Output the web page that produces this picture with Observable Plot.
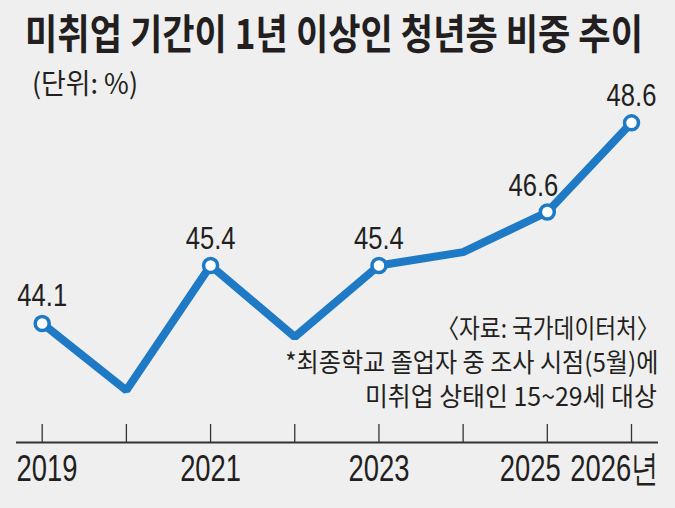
<!DOCTYPE html>
<html><head><meta charset="utf-8">
<script src="https://cdn.jsdelivr.net/npm/d3@7"></script>
<script src="https://cdn.jsdelivr.net/npm/@observablehq/plot@0.6"></script>
<style>
html,body{margin:0;padding:0;background:#efefef;}
#wrap{position:relative;width:675px;height:508px;background:#efefef;overflow:hidden;font-family:"Noto Sans CJK KR","Noto Sans",sans-serif;color:#231f20;}
#chart{position:absolute;left:0;top:0;}
.fit{position:absolute;white-space:nowrap;line-height:1;}
#title{left:25px;top:11px;font-size:41px;font-weight:700;transform-origin:left top;}
#sub{left:32px;top:68px;font-size:28px;font-weight:400;transform-origin:left top;}
.note{right:16px;font-size:26px;font-weight:400;transform-origin:right top;}
</style></head>
<body>
<div id="wrap">
  <div id="chart"></div>
  <div class="fit" id="title" data-w="618">미취업 기간이 1년 이상인 청년층 비중 추이</div>
  <div class="fit" id="sub" data-w="106">(단위: %)</div>
  <div class="fit note" style="top:314px" data-w="223">〈자료: 국가데이터처〉</div>
  <div class="fit note" style="top:348px;right:17px" data-w="373">*최종학교 졸업자 중 조사 시점(5월)에</div>
  <div class="fit note" style="top:382px;right:18px" data-w="292">미취업 상태인 15~29세 대상</div>
</div>
<script>
// Data
const years = [2019, 2020, 2021, 2022, 2023, 2024, 2025, 2026];
const values = [44.1, 42.6, 45.4, 43.8, 45.4, 45.7, 46.6, 48.6];
const labeledYears = [2019, 2021, 2023, 2025, 2026];
const tickLabels = ["2019", "2021", "2023", "2025", "2026년"];

const data = years.map((year, i) => ({year, value: values[i]}));
const labeled = data.filter(d => labeledYears.includes(d.year));
const ticks = labeledYears.map((year, i) => ({year, label: tickLabels[i]}));

const blue = "#1e7ac4";
const ink = "#231f20";
const numFont = '"Liberation Sans",Arial,sans-serif';
const yDomain = [41.43, 49];
const mTop = 104.5, mBottom = 66, H = 508;
const tickLen = 18;
const tickFont = 37, valueFont = 32;

const tickOpts = {x: "year", text: "label", frameAnchor: "bottom", lineAnchor: "top", dy: 12, fontSize: tickFont, fontFamily: numFont, fill: ink};
const valOpts = {x: "year", y: "value", text: d => d.value.toFixed(1), lineAnchor: "bottom", textAnchor: "middle", fontSize: valueFont, fontFamily: numFont, fill: ink};

const chart = Plot.plot({
  width: 675,
  height: H,
  marginLeft: 41.7,
  marginRight: 44,
  marginTop: mTop,
  marginBottom: mBottom,
  x: {domain: [2019, 2026], axis: null},
  y: {domain: yDomain, axis: null},
  style: {background: "transparent", color: ink, overflow: "visible"},
  marks: [
    Plot.ruleY([yDomain[0]], {stroke: "#333", strokeWidth: 2, insetLeft: -25.7, insetRight: -27}),
    Plot.tickX(years, {x: d => d, stroke: "#333", strokeWidth: 1.3, insetTop: (H - mTop - mBottom) - tickLen}),
    Plot.text(ticks.filter(d => d.year === 2019), {...tickOpts, dx: -25.7, textAnchor: "start"}),
    Plot.text(ticks.filter(d => d.year === 2021 || d.year === 2023), {...tickOpts, textAnchor: "middle"}),
    Plot.text(ticks.filter(d => d.year === 2025), {...tickOpts, dx: -17, textAnchor: "middle"}),
    Plot.text(ticks.filter(d => d.year === 2026), {...tickOpts, dx: 27, textAnchor: "end"}),
    Plot.line(data, {x: "year", y: "value", stroke: blue, strokeWidth: 8, strokeLinejoin: "miter", strokeLinecap: "butt"}),
    Plot.dot(labeled, {x: "year", y: "value", r: 7, fill: "white", stroke: blue, strokeWidth: 3.5}),
    Plot.text(labeled.filter(d => d.year !== 2025), {...valOpts, dy: -17}),
    Plot.text(labeled.filter(d => d.year === 2025), {...valOpts, dy: -16, dx: -14})
  ]
});
document.getElementById("chart").appendChild(chart);

function fitAll() {
  document.querySelectorAll(".fit").forEach(el => {
    el.style.transform = "none";
    const w = el.getBoundingClientRect().width;
    const target = +el.dataset.w;
    if (w > 0) el.style.transform = `scaleX(${target / w})`;
  });
  // condense the numeric SVG labels like the reference's narrow typeface
  chart.querySelectorAll("text").forEach(t => {
    t.removeAttribute("textLength");
    const fs = parseFloat(t.closest("[font-size]")?.getAttribute("font-size") || "0");
    const factor = fs === tickFont ? 0.74 : 0.8;
    const len = t.getComputedTextLength();
    if (len > 0) {
      t.setAttribute("textLength", (len * factor).toFixed(1));
      t.setAttribute("lengthAdjust", "spacingAndGlyphs");
    }
  });
}
fitAll();
if (document.fonts && document.fonts.ready) document.fonts.ready.then(fitAll);
</script>
</body></html>
